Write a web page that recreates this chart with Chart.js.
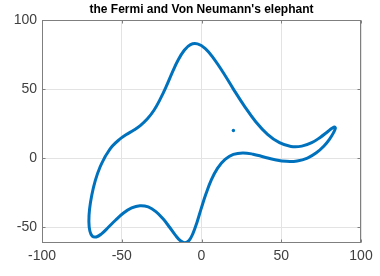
<!DOCTYPE html>
<html>
<head>
<meta charset="utf-8">
<script src="https://cdn.jsdelivr.net/npm/chart.js@4"></script>
<style>
html,body{margin:0;padding:0;background:#fff;}
#wrap{width:380px;height:276px;position:relative;}
</style>
</head>
<body>
<div id="wrap"><canvas id="c" width="380" height="276"></canvas></div>
<script>
const titleText = "the Fermi and Von Neumann's elephant";
const bodyX = [-60,-63.6,-66.6,-68.8,-70.2,-70.6,-70.0,-68.5,-66.0,-62.7,-58.7,-54.1,-49.1,-43.8,-38.6,-33.4,-28.6,-24.1,-20,-16.4,-13.2,-10.4,-7.8,-5.4,-2.9,-0.3,2.7,6.1,10.1,14.8,20.0,25.9,32.3,39.1,46.1,53.2,60,66.4,72.0,76.8,80.4,82.8,83.9,83.5,81.8,78.7,74.4,69.1,62.9,56.1,48.9,41.4,34.0,26.9,20,13.6,7.7,2.4,-2.5,-6.9,-10.9,-14.8,-18.5,-22.1,-25.9,-29.8,-33.9,-38.2,-42.6,-47.1,-51.6,-56.0,-60];
const bodyY = [2,-6.4,-16.2,-26.8,-37.1,-46.1,-52.7,-56.4,-57.0,-54.8,-50.4,-45.1,-39.9,-36.0,-34.4,-35.3,-38.7,-43.9,-50,-55.7,-59.8,-61.3,-59.6,-54.6,-46.7,-36.9,-26.2,-15.9,-7.2,-0.9,2.7,3.8,2.9,0.9,-1.1,-2.3,-2,0.1,3.9,8.8,14.0,18.5,21.5,22.6,21.6,18.8,15.0,11.2,8.7,8.5,11.2,17.3,26.4,37.7,50,62.0,72.1,79.3,82.7,82.2,77.9,70.7,61.6,51.9,42.7,34.7,28.5,23.8,20.2,17.1,13.4,8.6,2];
const eyeX = [20];
const eyeY = [20];
const xTicks = [-100,-50,0,50,100];
const yTicks = [-50,0,50,100];
const xMin = -100, xMax = 100, yMin = -61.4, yMax = 100;

const body = bodyX.map((x,i)=>({x:x,y:bodyY[i]}));
const eye = eyeX.map((x,i)=>({x:x,y:eyeY[i]}));
const color = '#0072BD';
const font = {family:"'Liberation Sans', Arial, sans-serif", size:14};

const frame = {
  id:'frame',
  afterDraw(chart){
    const {ctx, chartArea:a} = chart;
    const xs = chart.scales.x, ys = chart.scales.y;
    const L = Math.round(a.left)+0.5, T = Math.round(a.top)+0.5;
    const R = Math.round(a.right)-0.5, B = Math.round(a.bottom)-0.5;
    ctx.save();
    ctx.strokeStyle = '#7f7f7f';
    ctx.lineWidth = 1;
    ctx.strokeRect(L, T, R-L, B-T);
    ctx.beginPath();
    xTicks.forEach(v=>{
      const px = Math.round(xs.getPixelForValue(v))+0.5;
      ctx.moveTo(px,B); ctx.lineTo(px,B-3);
      ctx.moveTo(px,T); ctx.lineTo(px,T+3);
    });
    yTicks.forEach(v=>{
      const py = Math.round(ys.getPixelForValue(v))+0.5;
      ctx.moveTo(L,py); ctx.lineTo(L+3,py);
      ctx.moveTo(R,py); ctx.lineTo(R-3,py);
    });
    ctx.stroke();
    ctx.fillStyle = '#000';
    ctx.font = "bold 12px 'Liberation Sans', Arial, sans-serif";
    ctx.textAlign = 'center';
    ctx.textBaseline = 'middle';
    ctx.fillText(titleText, (a.left+a.right)/2, 10);
    ctx.restore();
  }
};

new Chart(document.getElementById('c'), {
  type:'scatter',
  data:{datasets:[
    {data:body, showLine:true, borderColor:color, borderWidth:3, pointRadius:0, tension:0.4, fill:false},
    {data:eye, showLine:false, backgroundColor:color, borderColor:color, pointRadius:1.7, borderWidth:0}
  ]},
  options:{
    responsive:false, animation:false,
    layout:{padding:{top:20,right:19,left:0,bottom:0}},
    plugins:{legend:{display:false}, title:{display:false}, tooltip:{enabled:false}},
    scales:{
      x:{type:'linear', min:xMin, max:xMax,
        afterBuildTicks(s){ s.ticks = xTicks.map(v=>({value:v})); },
        afterFit(s){ s.height = 33; },
        grid:{color:'#e3e3e3', drawTicks:false},
        border:{display:false},
        ticks:{font:font, color:'#404040', padding:5, maxRotation:0}
      },
      y:{type:'linear', min:yMin, max:yMax,
        afterBuildTicks(s){ s.ticks = yTicks.map(v=>({value:v})); },
        afterFit(s){ s.width = 42; },
        grid:{color:'#e3e3e3', drawTicks:false},
        border:{display:false},
        ticks:{font:font, color:'#404040', padding:5}
      }
    }
  },
  plugins:[frame]
});
</script>
</body>
</html>
